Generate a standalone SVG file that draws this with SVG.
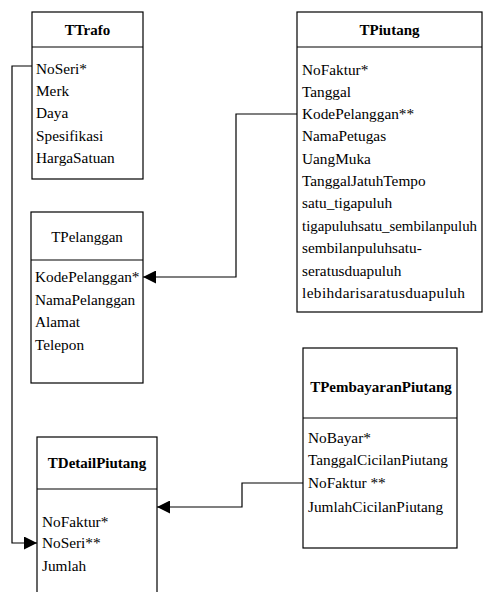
<svg xmlns="http://www.w3.org/2000/svg" width="483" height="592" viewBox="0 0 483 592">
  <style>
    .box { fill: #ffffff; stroke: #000000; stroke-width: 1.2; }
    .sep { stroke: #000000; stroke-width: 1.2; }
    .title { font-family: "Liberation Serif", "Times New Roman", serif; font-size: 15px; fill: #000000; text-anchor: middle; }
    .bold { font-weight: bold; }
    .attr { font-family: "Liberation Serif", "Times New Roman", serif; font-size: 15.3px; fill: #000000; }
    .link { fill: none; stroke: #000000; stroke-width: 1.2; }
  </style>
  <defs>
    <marker id="arrow" viewBox="0 0 10 10" refX="10" refY="5" markerWidth="13" markerHeight="13" markerUnits="userSpaceOnUse" orient="auto">
      <path d="M0,0 L10,5 L0,10 Z" fill="#000000"/>
    </marker>
  </defs>
  <rect width="483" height="592" fill="#ffffff"/>

  <g id="connectors">
    <!-- TTrafo.NoSeri -> TDetailPiutang.NoSeri -->
    <path class="link" d="M32,66 H12 V543 H37" marker-end="url(#arrow)"/>
    <!-- TPiutang.KodePelanggan -> TPelanggan.KodePelanggan -->
    <path class="link" d="M297,114 H236 V277 H143" marker-end="url(#arrow)"/>
    <!-- TPembayaranPiutang.NoFaktur -> TDetailPiutang -->
    <path class="link" d="M303,483 H242 V507 H157" marker-end="url(#arrow)"/>
  </g>

  <g id="TTrafo">
    <rect class="box" x="32" y="12" width="111" height="167"/>
    <line class="sep" x1="32" y1="47" x2="143" y2="47"/>
    <text class="title bold" x="87.5" y="35">TTrafo</text>
    <text class="attr" x="36" y="74">NoSeri*</text>
    <text class="attr" x="36" y="96">Merk</text>
    <text class="attr" x="36" y="118">Daya</text>
    <text class="attr" x="36" y="141">Spesifikasi</text>
    <text class="attr" x="36" y="163">HargaSatuan</text>
  </g>

  <g id="TPiutang">
    <rect class="box" x="297" y="12" width="185" height="300"/>
    <line class="sep" x1="297" y1="47" x2="482" y2="47"/>
    <text class="title bold" x="389.5" y="35">TPiutang</text>
    <text class="attr" x="302" y="75">NoFaktur*</text>
    <text class="attr" x="302" y="97">Tanggal</text>
    <text class="attr" x="302" y="119">KodePelanggan**</text>
    <text class="attr" x="302" y="141">NamaPetugas</text>
    <text class="attr" x="302" y="164">UangMuka</text>
    <text class="attr" x="302" y="186">TanggalJatuhTempo</text>
    <text class="attr" x="302" y="208">satu_tigapuluh</text>
    <text class="attr" x="302" y="231" textLength="175" lengthAdjust="spacingAndGlyphs">tigapuluhsatu_sembilanpuluh</text>
    <text class="attr" x="302" y="253">sembilanpuluhsatu-</text>
    <text class="attr" x="302" y="276">seratusduapuluh</text>
    <text class="attr" x="302" y="298" textLength="163">lebihdarisaratusduapuluh</text>
  </g>

  <g id="TPelanggan">
    <rect class="box" x="31" y="212" width="112" height="171"/>
    <line class="sep" x1="31" y1="260" x2="143" y2="260"/>
    <text class="title" x="87" y="242">TPelanggan</text>
    <text class="attr" x="35" y="282">KodePelanggan*</text>
    <text class="attr" x="35" y="305">NamaPelanggan</text>
    <text class="attr" x="35" y="327">Alamat</text>
    <text class="attr" x="35" y="350">Telepon</text>
  </g>

  <g id="TPembayaranPiutang">
    <rect class="box" x="303" y="348" width="154" height="200"/>
    <line class="sep" x1="303" y1="418" x2="457" y2="418"/>
    <text class="title bold" x="381" y="392">TPembayaranPiutang</text>
    <text class="attr" x="308" y="443">NoBayar*</text>
    <text class="attr" x="308" y="465">TanggalCicilanPiutang</text>
    <text class="attr" x="308" y="488">NoFaktur **</text>
    <text class="attr" x="308" y="512">JumlahCicilanPiutang</text>
  </g>

  <g id="TDetailPiutang">
    <rect class="box" x="37" y="437" width="120" height="160"/>
    <line class="sep" x1="37" y1="489" x2="157" y2="489"/>
    <text class="title bold" x="97" y="468">TDetailPiutang</text>
    <text class="attr" x="42" y="527">NoFaktur*</text>
    <text class="attr" x="42" y="548">NoSeri**</text>
    <text class="attr" x="42" y="571">Jumlah</text>
  </g>
</svg>
